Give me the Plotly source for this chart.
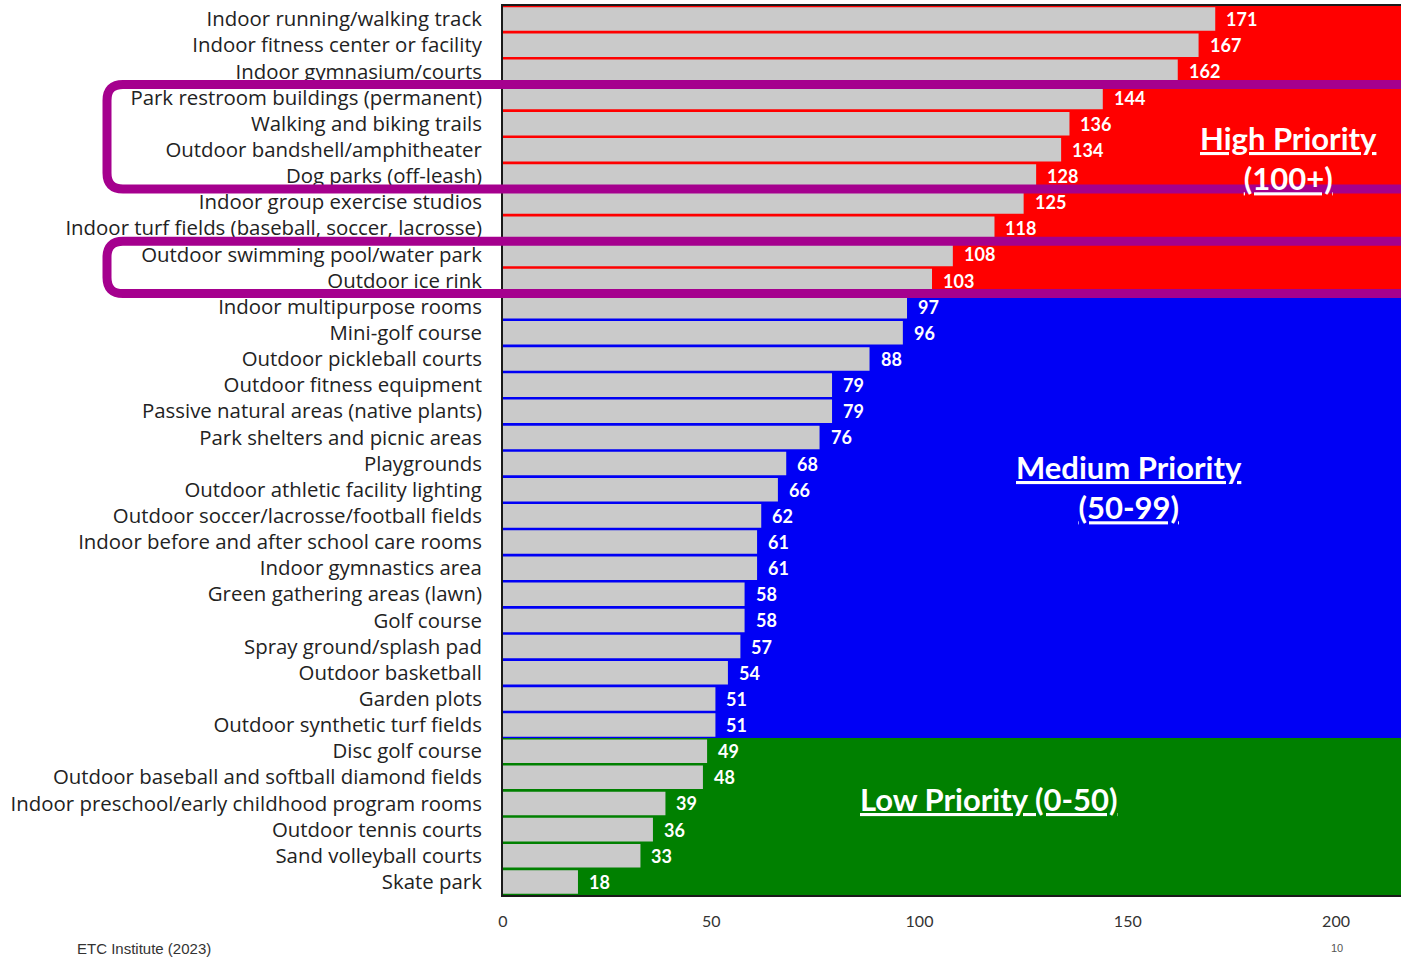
import plotly.graph_objects as go

categories = [
    "Indoor running/walking track",
    "Indoor fitness center or facility",
    "Indoor gymnasium/courts",
    "Park restroom buildings (permanent)",
    "Walking and biking trails",
    "Outdoor bandshell/amphitheater",
    "Dog parks (off-leash)",
    "Indoor group exercise studios",
    "Indoor turf fields (baseball, soccer, lacrosse)",
    "Outdoor swimming pool/water park",
    "Outdoor ice rink",
    "Indoor multipurpose rooms",
    "Mini-golf course",
    "Outdoor pickleball courts",
    "Outdoor fitness equipment",
    "Passive natural areas (native plants)",
    "Park shelters and picnic areas",
    "Playgrounds",
    "Outdoor athletic facility lighting",
    "Outdoor soccer/lacrosse/football fields",
    "Indoor before and after school care rooms",
    "Indoor gymnastics area",
    "Green gathering areas (lawn)",
    "Golf course",
    "Spray ground/splash pad",
    "Outdoor basketball",
    "Garden plots",
    "Outdoor synthetic turf fields",
    "Disc golf course",
    "Outdoor baseball and softball diamond fields",
    "Indoor preschool/early childhood program rooms",
    "Outdoor tennis courts",
    "Sand volleyball courts",
    "Skate park",
]
values = [171, 167, 162, 144, 136, 134, 128, 125, 118, 108, 103,
          97, 96, 88, 79, 79, 76, 68, 66, 62, 61, 61, 58, 58, 57, 54, 51, 51,
          49, 48, 39, 36, 33, 18]
x_ticks = [0, 50, 100, 150, 200]

# priority zones: (first row index, last row index, colour)
zones = [(0, 10, "#ff0000"), (11, 27, "#0000f5"), (28, 33, "#008000")]
# highlighted row groups (first row, last row)
highlights = [(3, 6), (9, 10)]

N = len(categories)
W, H = 1401, 957
ML, MR, MT, MB = 503, 0, 6, 62
PW, PH = W - ML - MR, H - MT - MB

def ypaper(idx):
    # idx is a row boundary position in category units (axis reversed)
    return 1 - (idx + 0.5) / N

fig = go.Figure()
fig.add_trace(go.Bar(
    y=categories, x=values, orientation="h",
    marker=dict(color="#cacaca", line=dict(width=0)),
    hoverinfo="skip",
))

shapes = []
for a, b, col in zones:
    shapes.append(dict(type="rect", xref="paper", yref="paper",
                       x0=0, x1=1, y0=ypaper(b + 0.5), y1=ypaper(a - 0.5),
                       fillcolor=col, line=dict(width=0), layer="below"))

purple = "#a5008e"
xl = (107 - ML) / PW
xr = 1.2
rx = 16 / PW
ry = 16 / PH
for a, b in highlights:
    yt = ypaper(a - 0.5)
    yb = ypaper(b + 0.5)
    path = (f"M {xr},{yt} L {xl+rx},{yt} Q {xl},{yt} {xl},{yt-ry} "
            f"L {xl},{yb+ry} Q {xl},{yb} {xl+rx},{yb} L {xr},{yb}")
    shapes.append(dict(type="path", path=path, xref="paper", yref="paper",
                       line=dict(color=purple, width=9), layer="above"))

annotations = []
for c, v in zip(categories, values):
    annotations.append(dict(x=v, y=c, xref="x", yref="y", text=f"<b>{v}</b>",
                            showarrow=False, xanchor="left", xshift=9,
                            font=dict(family="Lato", size=18, color="white")))

big = dict(family="Lato", size=31, color="white")
annotations += [
    dict(xref="paper", yref="paper", x=(1288 - ML) / PW, y=1 - (158 - MT) / PH,
         xanchor="center", yanchor="middle",
         text="<b><u>High Priority</u><br><u>(100+)</u></b>", showarrow=False,
         font=big, align="center"),
    dict(xref="paper", yref="paper", x=(1129 - ML) / PW, y=1 - (487 - MT) / PH,
         xanchor="center", yanchor="middle",
         text="<b><u>Medium Priority</u><br><u>(50-99)</u></b>", showarrow=False,
         font=big, align="center"),
    dict(xref="paper", yref="paper", x=(988 - ML) / PW, y=1 - (799 - MT) / PH,
         xanchor="center", yanchor="middle",
         text="<b><u>Low Priority (0-50)</u></b>", showarrow=False,
         font=big, align="center"),
    dict(xref="paper", yref="paper", x=(75 - ML) / PW, y=1 - (948 - MT) / PH,
         xanchor="left", yanchor="middle", text="ETC Institute (2023)", showarrow=False,
         font=dict(family="Arial", size=15, color="#333333")),
    dict(xref="paper", yref="paper", x=(1337 - ML) / PW, y=1 - (948 - MT) / PH,
         xanchor="center", yanchor="middle", text="10", showarrow=False,
         font=dict(family="Arial", size=11, color="#555555")),
]

fig.update_layout(
    width=W, height=H,
    margin=dict(l=ML, r=MR, t=MT, b=MB),
    paper_bgcolor="white", plot_bgcolor="white",
    bargap=0.1, showlegend=False, hovermode=False,
    shapes=shapes, annotations=annotations,
    xaxis=dict(range=[0, 215.6], tickvals=x_ticks, showgrid=False, zeroline=False,
               showline=True, mirror=True, linecolor="#1a1a1a", linewidth=2,
               ticks="", ticklabelstandoff=11,
               tickfont=dict(family="Lato", size=16, color="#333333")),
    yaxis=dict(categoryorder="array", categoryarray=categories, autorange="reversed",
               showgrid=False, showline=True, linecolor="#1a1a1a", linewidth=2,
               ticks="", ticklabelstandoff=15,
               tickfont=dict(family="Open Sans", size=20.4, color="#222222")),
)

fig.write_html("out.html", config={"displayModeBar": False},
               post_script="document.body.style.margin='0';")
